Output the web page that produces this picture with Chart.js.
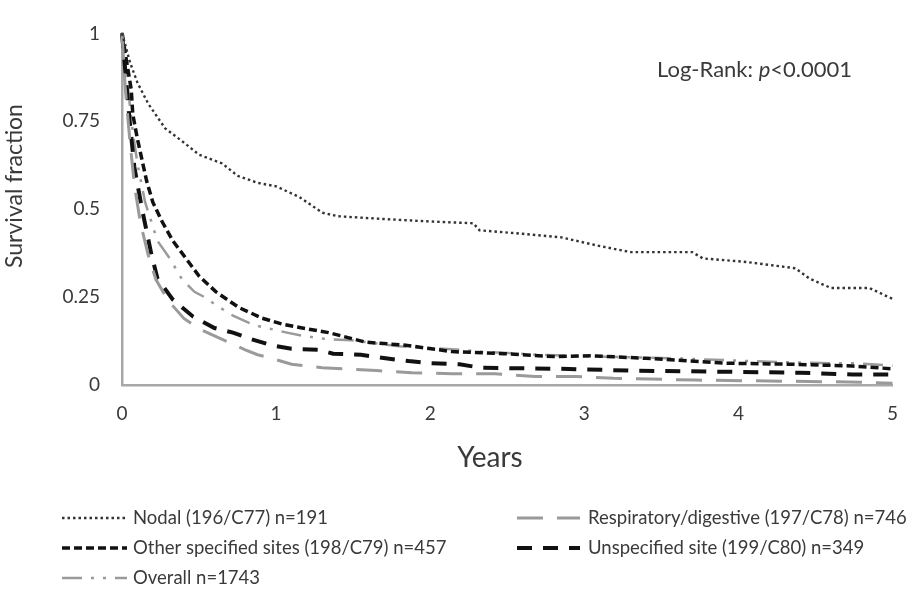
<!DOCTYPE html>
<html>
<head>
<meta charset="utf-8">
<script src="https://cdn.jsdelivr.net/npm/chart.js@4/dist/chart.umd.min.js"></script>
<style>
  html, body { margin: 0; padding: 0; background: #fff; }
  #wrap { width: 915px; height: 593px; }
</style>
</head>
<body>
<div id="wrap"><canvas id="c" width="915" height="593"></canvas></div>
<script>
// ---- data (years, survival fraction) ----
const nodalT = [0, 0.02, 0.05, 0.1, 0.17, 0.28, 0.4, 0.5, 0.65, 0.75, 0.88, 1.0, 1.15, 1.3, 1.4, 1.7, 2.0, 2.28, 2.32, 2.6, 2.85, 3.08, 3.3, 3.7, 3.77, 4.05, 4.37, 4.46, 4.6, 4.85, 4.97, 5.0];
const nodalS = [1.0, 0.97, 0.92, 0.86, 0.80, 0.73, 0.69, 0.655, 0.63, 0.595, 0.575, 0.565, 0.535, 0.49, 0.48, 0.472, 0.465, 0.46, 0.44, 0.43, 0.42, 0.397, 0.378, 0.378, 0.36, 0.35, 0.332, 0.303, 0.276, 0.276, 0.251, 0.245];

const respT = [0, 0.02, 0.05, 0.08, 0.12, 0.17, 0.22, 0.3, 0.4, 0.5, 0.6, 0.7, 0.8, 0.88, 0.97, 1.1, 1.3, 1.45, 1.65, 1.88, 2.14, 2.42, 2.68, 2.95, 3.19, 3.73, 4.8, 5.0];
const respS = [1.0, 0.85, 0.70, 0.57, 0.46, 0.37, 0.30, 0.24, 0.19, 0.16, 0.14, 0.12, 0.10, 0.086, 0.076, 0.059, 0.049, 0.046, 0.041, 0.035, 0.032, 0.032, 0.024, 0.024, 0.019, 0.014, 0.008, 0.005];

const otherT = [0, 0.03, 0.06, 0.07, 0.1, 0.13, 0.16, 0.2, 0.26, 0.33, 0.42, 0.5, 0.61, 0.76, 0.91, 1.05, 1.17, 1.34, 1.58, 1.84, 2.14, 2.48, 2.8, 3.05, 3.4, 3.92, 4.35, 4.74, 5.0];
const otherS = [1.0, 0.92, 0.84, 0.77, 0.70, 0.64, 0.58, 0.52, 0.465, 0.41, 0.357, 0.31, 0.265, 0.22, 0.19, 0.172, 0.162, 0.149, 0.122, 0.113, 0.095, 0.089, 0.081, 0.083, 0.076, 0.062, 0.059, 0.054, 0.046];

const unspecT = [0, 0.02, 0.05, 0.08, 0.13, 0.19, 0.23, 0.33, 0.46, 0.6, 0.72, 0.84, 0.97, 1.1, 1.28, 1.37, 1.55, 1.71, 1.86, 2.0, 2.19, 2.33, 2.85, 3.3, 4.4, 4.74, 5.0];
const unspecS = [1.0, 0.90, 0.75, 0.62, 0.50, 0.373, 0.303, 0.243, 0.195, 0.162, 0.149, 0.13, 0.113, 0.103, 0.10, 0.089, 0.086, 0.076, 0.068, 0.062, 0.059, 0.049, 0.046, 0.041, 0.035, 0.030, 0.030];

const overallT = [0, 0.03, 0.07, 0.1, 0.15, 0.23, 0.31, 0.39, 0.47, 0.54, 0.6, 0.72, 0.86, 0.94, 1.07, 1.17, 1.34, 1.49, 1.8, 2.2, 2.33, 2.7, 3.0, 3.6, 3.77, 4.2, 4.6, 4.74, 5.0];
const overallS = [1.0, 0.88, 0.72, 0.63, 0.52, 0.41, 0.36, 0.30, 0.265, 0.249, 0.23, 0.197, 0.17, 0.162, 0.149, 0.14, 0.13, 0.127, 0.11, 0.10, 0.095, 0.086, 0.082, 0.076, 0.073, 0.066, 0.062, 0.062, 0.055];

const seriesLabels = [
  'Nodal (196/C77) n=191',
  'Respiratory/digestive (197/C78) n=746',
  'Other specified sites (198/C79) n=457',
  'Unspecified site (199/C80) n=349',
  'Overall n=1743'
];
const xTicks = [0, 1, 2, 3, 4, 5];
const yTicks = [0, 0.25, 0.5, 0.75, 1];
const xTitle = 'Years';
const yTitle = 'Survival fraction';
const annotationText = ['Log-Rank: ', 'p', '<0.0001'];

function pts(t, s) { return t.map((v, i) => ({ x: v, y: s[i] })); }

const FONT = 'Lato, "Open Sans", "Liberation Sans", sans-serif';
const TEXT = '#3a3a3a';

const datasets = [
  { label: seriesLabels[0], data: pts(nodalT, nodalS), borderColor: '#333333', borderWidth: 2.4, borderDash: [2.5, 3] },
  { label: seriesLabels[1], data: pts(respT, respS), borderColor: '#9a9a9a', borderWidth: 3, borderDash: [26, 14] },
  { label: seriesLabels[2], data: pts(otherT, otherS), borderColor: '#111111', borderWidth: 3.5, borderDash: [8, 4] },
  { label: seriesLabels[3], data: pts(unspecT, unspecS), borderColor: '#111111', borderWidth: 4, borderDash: [15, 11] },
  { label: seriesLabels[4], data: pts(overallT, overallS), borderColor: '#9a9a9a', borderWidth: 2.5, borderDash: [20, 9, 3, 9, 3, 9] }
].map(d => Object.assign(d, { pointRadius: 0, tension: 0, fill: false, clip: false, borderCapStyle: 'butt' }));

// legend slots: [datasetIndex, column, row]
const legendSlots = [[0, 0, 0], [2, 0, 1], [4, 0, 2], [1, 1, 0], [3, 1, 1]];

const customText = {
  id: 'customText',
  afterDraw(chart) {
    const ctx = chart.ctx;
    const cols = [{ x0: 62, x1: 127, tx: 133 }, { x0: 517, x1: 580, tx: 588 }];
    const rows = [518, 548, 578];
    ctx.save();
    legendSlots.forEach(([di, c, r]) => {
      const ds = chart.data.datasets[di];
      const col = cols[c], y = rows[r];
      ctx.beginPath();
      ctx.strokeStyle = ds.borderColor;
      ctx.lineWidth = ds.borderWidth;
      ctx.setLineDash(ds.borderDash);
      ctx.moveTo(col.x0, y);
      ctx.lineTo(col.x1, y);
      ctx.stroke();
      ctx.setLineDash([]);
      ctx.fillStyle = TEXT;
      ctx.font = '18.5px ' + FONT;
      ctx.textBaseline = 'middle';
      ctx.textAlign = 'left';
      ctx.fillText(ds.label, col.tx, y);
    });
    // Log-rank annotation
    let x = 657; const y = 70;
    ctx.fillStyle = TEXT;
    ctx.textBaseline = 'middle';
    annotationText.forEach((s, i) => {
      ctx.font = (i === 1 ? 'italic ' : '') + '22px ' + FONT;
      ctx.fillText(s, x, y);
      x += ctx.measureText(s).width;
    });
    // axis titles
    ctx.font = '28px ' + FONT;
    ctx.textAlign = 'center';
    ctx.fillText(xTitle, 490, 458);
    ctx.save();
    ctx.translate(15, 186);
    ctx.rotate(-Math.PI / 2);
    ctx.font = '23px ' + FONT;
    ctx.fillText(yTitle, 0, 0);
    ctx.restore();
    ctx.restore();
  }
};

new Chart(document.getElementById('c'), {
  type: 'line',
  data: { datasets },
  options: {
    responsive: false,
    animation: false,
    events: [],
    layout: { padding: { left: 0, right: 20, top: 15, bottom: 113 } },
    plugins: { legend: { display: false }, tooltip: { enabled: false } },
    scales: {
      x: {
        type: 'linear', min: 0, max: 5,
        afterBuildTicks: s => { s.ticks = xTicks.map(v => ({ value: v })); },
        afterFit: s => { s.height = 95; },
        grid: { display: false, drawTicks: false },
        border: { display: true, color: '#a8a8a8', width: 2.5 },
        ticks: { padding: 17, color: TEXT, font: { family: FONT, size: 19 } },
        title: { display: false }
      },
      y: {
        type: 'linear', min: 0, max: 1,
        afterBuildTicks: s => { s.ticks = yTicks.map(v => ({ value: v })); },
        afterFit: s => { s.width = 122; },
        grid: { display: false, drawTicks: false },
        border: { display: true, color: '#a8a8a8', width: 2.5 },
        ticks: { padding: 22, color: TEXT, font: { family: FONT, size: 19 }, callback: v => String(v) },
        title: { display: false }
      }
    }
  },
  plugins: [customText]
});
</script>
</body>
</html>
